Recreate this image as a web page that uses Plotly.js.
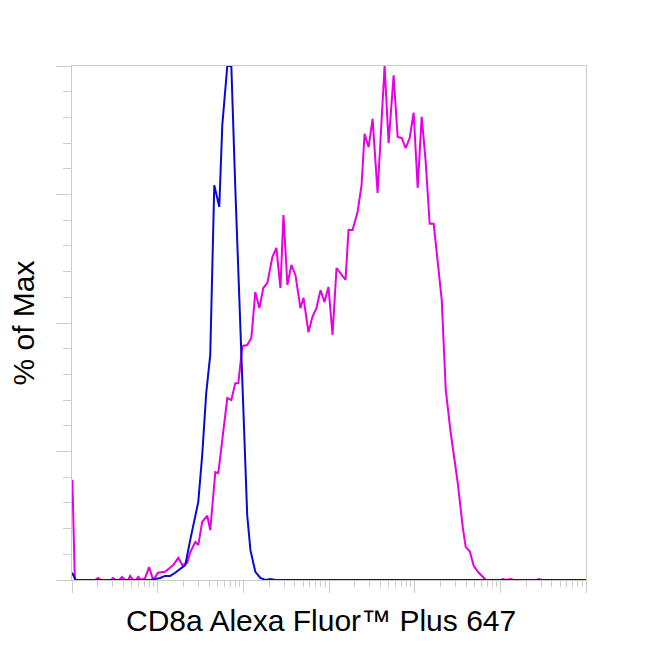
<!DOCTYPE html>
<html>
<head>
<meta charset="utf-8">
<script src="https://cdn.plot.ly/plotly-3.0.1.min.js"></script>
<style>html,body{margin:0;padding:0;background:#fff;}#chart{width:650px;height:650px;}</style>
</head>
<body>
<div id="chart"></div>
<script>
// Stained sample (magenta) - fluorescence intensity and % of max
var stainedX = [1.01,1.08,1.24,1.86,2.01,2.18,2.86,3.02,3.27,3.55,3.84,4.17,4.52,4.77,5.17,5.61,5.92,6.41,7.14,7.95,8.86,10.1,12.2,15.2,17.4,19.4,22.1,24.0,27.5,29.8,33.1,37.9,41.1,47.1,51.0,56.8,65.0,72.4,80.6,87.4,97.3,111,124,138,154,171,191,218,243,271,294,327,364,406,464,504,576,641,714,796,885,986,1099,1224,1400,1560,1690,1884,2155,2400,2600,2897,3228,3690,4457,4966,5680,6324,7047,7852,8749,9730,10840,12080,13460,14970,16680,18580,20700,23060,26370,31840,36390,39450,43950,48970,56100,67620,101400,107000,115900,132700,143800,267200,282000,305600,1000000];
var stainedY = [19.5,0,0,0,0.4,0,0,0.4,0,0,0.6,0,0,0.8,0,0,0.6,0,0.4,2.5,0,1.4,1.6,2.9,4.3,2.9,3.3,5.4,7.4,6.8,11.3,12.5,9.7,21.0,20.8,27.2,35.4,35.0,38.3,38.3,45.5,45.7,47.1,56.0,52.9,56.8,57.8,62.8,64.6,56.8,71.0,57.4,61.3,59.3,52.9,54.9,48.2,51.2,52.9,56.4,54.1,57.0,47.7,60.7,59.3,58.4,68.1,68.1,71.6,76.8,86.8,84.2,89.7,75.3,100,85.0,98.2,86.2,86.0,84.0,86.0,90.9,76.3,90.1,81.3,69.3,69.3,62.3,54.5,37.0,28.6,18.9,10.3,6.4,5.6,2.7,1.4,0,0,0.2,0,0.2,0,0,0.2,0,0];

// Unstained / control sample (blue)
var controlX = [1.0,1.11,1.24,8.17,9.35,10.7,12.2,14.0,16.0,18.3,21.0,24.0,26.0,29.8,33.1,36.9,41.1,45.8,52.4,56.8,65.0,72.4,80.5,92.3,103,111,121,138,158,181,207,237,1000000];
var controlY = [1.4,0,0,0,0.2,0.4,0.8,0.8,1.4,2.1,2.9,7.8,10.7,15.2,24.3,36.4,43.8,76.8,72.6,88.5,100,100,76.5,48.6,27.2,12.6,5.8,1.6,0.4,0,0.2,0,0];

var xTitle = "CD8a Alexa Fluor™ Plus 647";
var yTitle = "% of Max";

var traces = [
  {x: stainedX, y: stainedY, type: 'scatter', mode: 'lines',
   line: {color: '#e600e6', width: 2}, hoverinfo: 'skip'},
  {x: controlX, y: controlY, type: 'scatter', mode: 'lines',
   line: {color: '#0a0acc', width: 2}, hoverinfo: 'skip'}
];

var axisCommon = {
  showline: true, linecolor: '#cccccc', linewidth: 1, mirror: true,
  showgrid: false, zeroline: false, showticklabels: false,
  ticks: 'outside', tickcolor: '#cccccc', tickwidth: 1
};

var layout = {
  width: 650, height: 650,
  margin: {l: 72, r: 64, t: 66, b: 70},
  paper_bgcolor: '#ffffff', plot_bgcolor: '#ffffff',
  showlegend: false,
  font: {family: 'Liberation Sans, Arial, sans-serif', color: '#000000'},
  xaxis: Object.assign({}, axisCommon, {
    type: 'log', range: [0, 6], dtick: 1, tick0: 0, ticklen: 12,
    minor: {dtick: 'D1', ticks: 'outside', ticklen: 6, tickcolor: '#cccccc', tickwidth: 1, showgrid: false}
  }),
  yaxis: Object.assign({}, axisCommon, {
    range: [0, 100], dtick: 25, tick0: 0, ticklen: 15,
    minor: {dtick: 5, ticks: 'outside', ticklen: 8, tickcolor: '#cccccc', tickwidth: 1, showgrid: false},
    title: {text: yTitle, font: {size: 30, color: '#000000'}, standoff: 12}
  }),
  annotations: [{
    text: xTitle, xref: 'paper', yref: 'paper', x: 0.4835, y: -0.078,
    xanchor: 'center', yanchor: 'middle', showarrow: false,
    font: {size: 30, color: '#000000', family: 'Liberation Sans, Arial, sans-serif'}
  }]
};

Plotly.newPlot('chart', traces, layout, {staticPlot: true, displayModeBar: false});
</script>
</body>
</html>
